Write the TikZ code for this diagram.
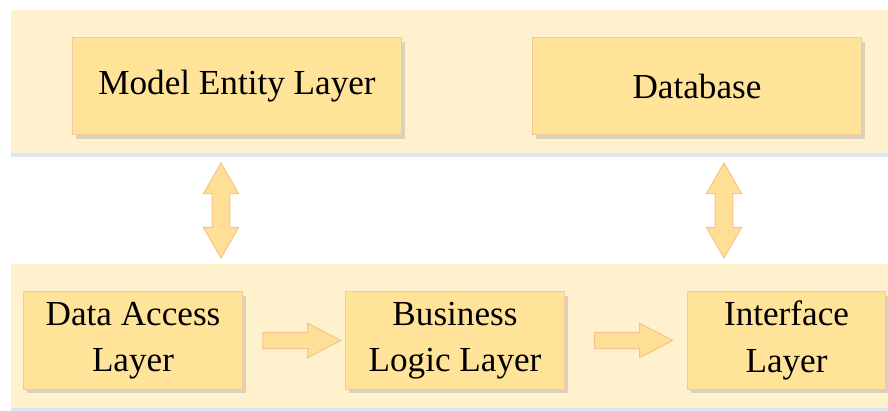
\documentclass[tikz,border=0pt]{standalone}
\usepackage{fontspec}
\setmainfont{Liberation Serif}
\usetikzlibrary{shapes.arrows,shadows,calc}
\definecolor{bandfill}{HTML}{FFF1CE}
\definecolor{bandshade}{HTML}{C9DDF2}
\definecolor{boxfill}{HTML}{FFE398}
\definecolor{boxline}{HTML}{F8C79C}
\definecolor{arrfill}{HTML}{FFDE96}
\definecolor{arrline}{HTML}{F6C38E}
\begin{document}
\begin{tikzpicture}[x=0.025cm, y=-0.025cm,
    band/.style={fill=bandfill, drop shadow={shadow xshift=0pt, shadow yshift=-3pt, fill=bandshade, opacity=0.7}},
    layer/.style={rectangle, fill=boxfill, draw=boxline, line width=0.7pt, inner sep=0pt, align=center,
      minimum height=2.43cm, font=\fontsize{25}{33}\selectfont,
      drop shadow={shadow xshift=2.5pt, shadow yshift=-3pt, fill=black!40, opacity=0.35}},
    flow/.style={single arrow, fill=arrfill, draw=arrline, line width=0.7pt, inner sep=0.19cm,
      single arrow head extend=0.23cm, single arrow tip angle=55, minimum height=1.95cm},
    link/.style={double arrow, fill=arrfill, draw=arrline, line width=0.7pt, inner sep=0.21cm, rotate=90,
      double arrow head extend=0.22cm, double arrow tip angle=60, minimum height=2.375cm}]
  \useasboundingbox (0,0) rectangle (888,411);
  \path[band] (11,10) rectangle (888,153);
  \path[band] (11,264) rectangle (888,408);
  \node[layer, minimum width=8.2cm] (entity) at (237,86) {Model Entity Layer};
  \node[layer, minimum width=8.2cm] (db) at (697,86) {Database};
  \node[layer, minimum width=5.45cm] (access) at (133,340.5) {Data Access\\Layer};
  \node[layer, minimum width=5.45cm] (logic) at (455,340.5) {Business\\Logic Layer};
  \node[layer, minimum width=4.93cm] (iface) at (786.5,340.5) {Interface\\Layer};
  \node[flow] (a1) at ($(access.east)!0.5!(logic.west)$) {};
  \node[flow] (a2) at ($(logic.east)!0.5!(iface.west)$) {};
  \node[link] (l1) at (221,210.5) {};
  \node[link] (l2) at (724,210.5) {};
\end{tikzpicture}
\end{document}
